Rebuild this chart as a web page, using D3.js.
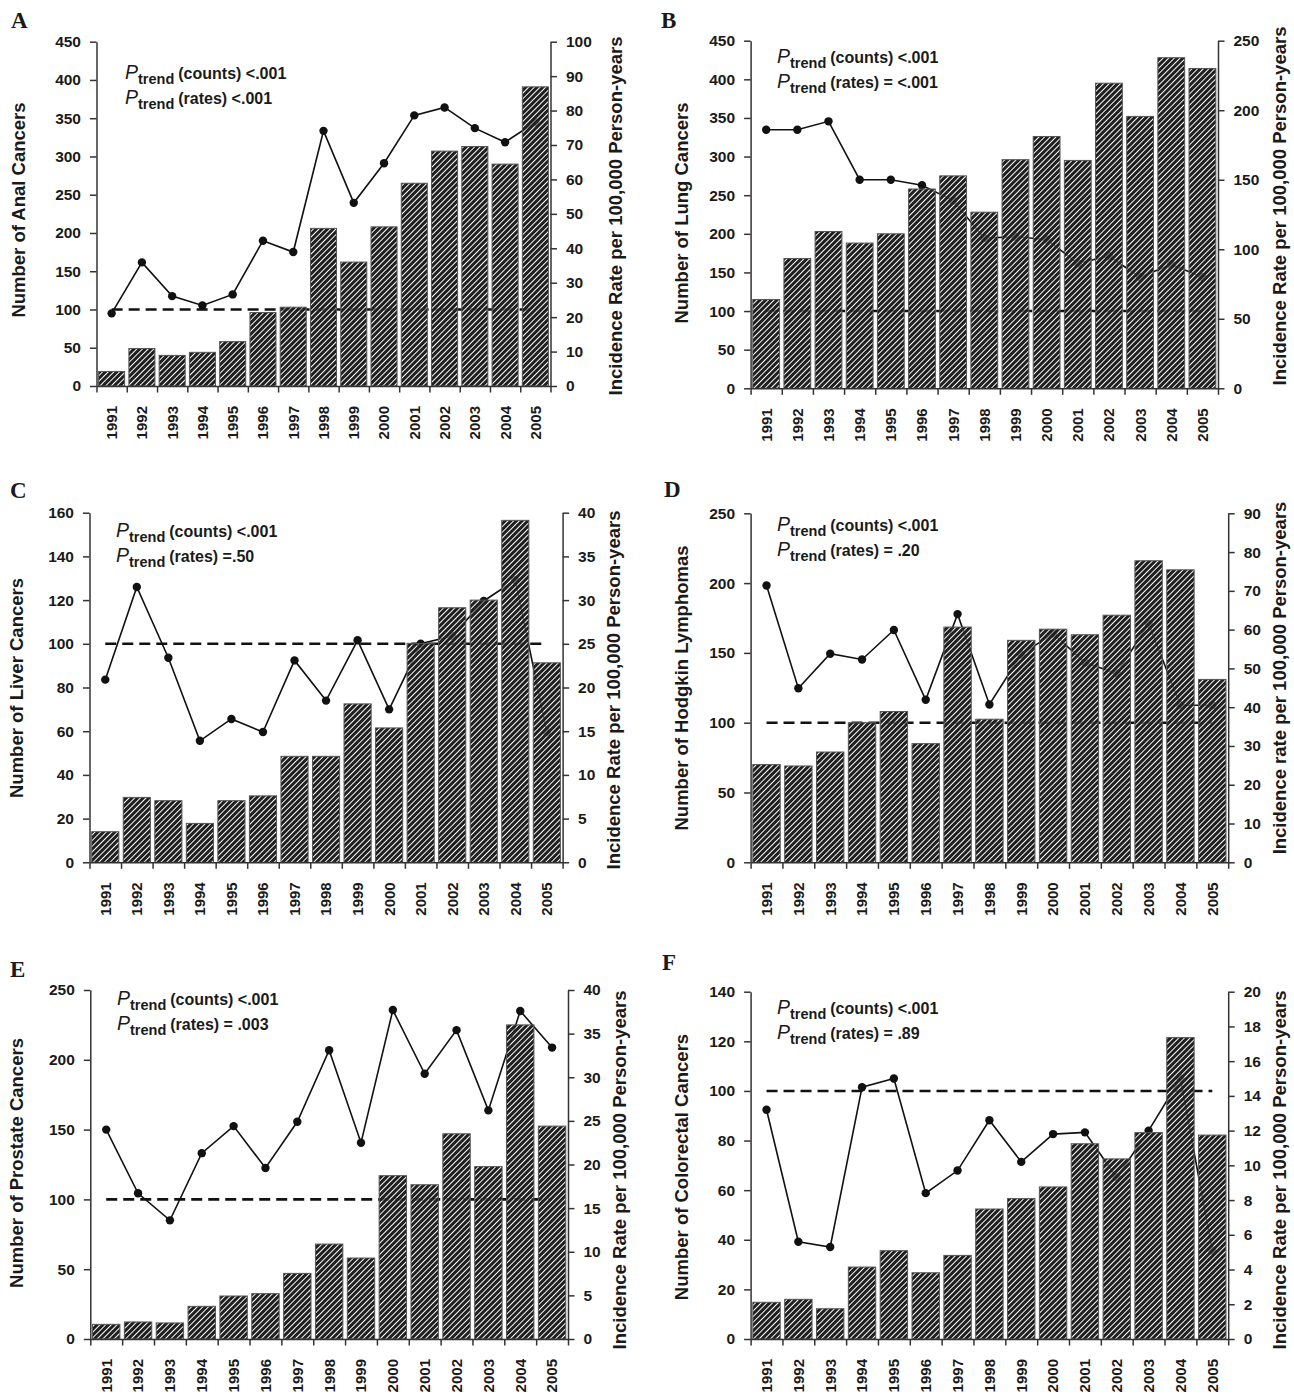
<!DOCTYPE html>
<html>
<head>
<meta charset="utf-8">
<script src="https://cdn.jsdelivr.net/npm/d3@7"></script>
<style>
  body { margin: 0; background: #fff; }
  svg { display: block; }
  text { font-family: "Liberation Sans", Arial, sans-serif; font-weight: bold; fill: #1a1a1a; }
</style>
</head>
<body>
<div id="chart"></div>
<script>
// years on the x axis
let years = ["1991", "1992", "1993", "1994", "1995", "1996", "1997", "1998",
             "1999", "2000", "2001", "2002", "2003", "2004", "2005"];

// counts (bars, left axis) and incidence rates (line, right axis)
let analCounts = [19, 49, 40, 44, 58, 96, 103, 206, 162, 208, 265, 307, 313, 290, 391];
let analRates = [21.1, 35.9, 26.1, 23.4, 26.6, 42.2, 38.9, 74.1, 53.2, 64.7, 78.6, 80.9, 74.9, 70.8, 76.6];

let lungCounts = [115, 168, 203, 188, 200, 258, 275, 228, 296, 326, 295, 395, 352, 428, 414];
let lungRates = [186, 186, 192, 150, 150, 146, 135, 108, 109, 107, 90, 95, 80, 89, 80];

let liverCounts = [14, 29.7, 28.2, 17.8, 28.2, 30.4, 48.5, 48.5, 72.5, 61.5, 100.2, 116.5, 120, 156.5, 91.3];
let liverRates = [20.9, 31.5, 23.4, 13.9, 16.4, 14.9, 23.1, 18.5, 25.4, 17.5, 25, 25.9, 29.9, 32.3, 14.9];

let hodgkinCounts = [70, 69, 79, 100, 108, 85, 168.5, 102.5, 159, 167, 163, 177, 216, 209.5, 131];
let hodgkinRates = [71.4, 44.9, 53.8, 52.3, 59.9, 41.9, 64, 40.7, 53.6, 59, 51.5, 48.7, 61.5, 40.5, 40.5];

let prostateCounts = [10.5, 12.2, 11.5, 23.4, 30.8, 32.5, 47, 68, 58, 117, 110.5, 147, 123.5, 225, 152.5];
let prostateRates = [24, 16.7, 13.6, 21.3, 24.4, 19.6, 24.9, 33.1, 22.5, 37.7, 30.4, 35.4, 26.2, 37.6, 33.4];

let colorectalCounts = [14.8, 16, 12.2, 29, 35.6, 26.7, 33.7, 52.4, 56.6, 61.3, 78.7, 72.6, 83.2, 121.5, 82.2];
let colorectalRates = [13.2, 5.6, 5.3, 14.5, 15, 8.4, 9.7, 12.6, 10.2, 11.8, 11.9, 9.3, 12, 15, 5.1];

// axis ranges and tick steps per panel (A..F)
let countMax = [450, 450, 160, 250, 250, 140];
let countStep = [50, 50, 20, 50, 50, 20];
let rateMax = [100, 250, 40, 90, 40, 20];
let rateStep = [10, 50, 5, 10, 5, 2];
let referenceCount = [100, 100, 100, 100, 100, 100];

// texts
let panelLetters = ["A", "B", "C", "D", "E", "F"];
let leftTitles = ["Number of Anal Cancers", "Number of Lung Cancers", "Number of Liver Cancers",
                  "Number of Hodgkin Lymphomas", "Number of Prostate Cancers", "Number of Colorectal Cancers"];
let rightTitles = ["Incidence Rate per 100,000 Person-years", "Incidence Rate per 100,000 Person-years",
                   "Incidence Rate per 100,000 Person-years", "Incidence rate per 100,000 Person-years",
                   "Incidence Rate per 100,000 Person-years", "Incidence Rate per 100,000 Person-years"];
let pCounts = ["(counts) <.001", "(counts) <.001", "(counts) <.001", "(counts) <.001", "(counts) <.001", "(counts) <.001"];
let pRates = ["(rates) <.001", "(rates) = <.001", "(rates) =.50", "(rates) = .20", "(rates) = .003", "(rates) = .89"];

let countSeries = [analCounts, lungCounts, liverCounts, hodgkinCounts, prostateCounts, colorectalCounts];
let rateSeries = [analRates, lungRates, liverRates, hodgkinRates, prostateRates, colorectalRates];

// page layout of each panel
let layout = [
  { left: 96.5, right: 550.5, top: 41.7, bottom: 386, letter: [11, 28], p: [125, 78.5], lt: [18.5, 210], rt: [615, 216] },
  { left: 750.6, right: 1218, top: 40.7, bottom: 388.3, letter: [661, 28], p: [777, 63], lt: [681, 213], rt: [1279, 206] },
  { left: 89.5, right: 562.6, top: 512.7, bottom: 862.3, letter: [10, 498], p: [116, 536.7], lt: [16.5, 688], rt: [613, 690] },
  { left: 750.6, right: 1228.2, top: 513.3, bottom: 862.3, letter: [664, 496.7], p: [777, 530.7], lt: [681, 688], rt: [1279, 678] },
  { left: 90.3, right: 568, top: 990, bottom: 1339, letter: [10, 976.7], p: [117, 1005], lt: [16.5, 1163], rt: [619, 1170] },
  { left: 750.6, right: 1228.2, top: 991.7, bottom: 1339, letter: [662, 970], p: [777, 1014], lt: [681, 1167], rt: [1279, 1170] }
];

let svg = d3.select("#chart").append("svg")
  .attr("width", 1294)
  .attr("height", 1396);

svg.append("rect").attr("width", 1294).attr("height", 1396).attr("fill", "#fff");

// hatch fill of the bars: dark with thin light diagonal lines
let defs = svg.append("defs");
let hatch = defs.append("pattern")
  .attr("id", "hatch")
  .attr("patternUnits", "userSpaceOnUse")
  .attr("width", 4)
  .attr("height", 4)
  .attr("patternTransform", "rotate(45)");
hatch.append("rect").attr("width", 3.05).attr("height", 4).attr("fill", "#1f1f1f");
hatch.append("rect").attr("x", 3.05).attr("width", 0.95).attr("height", 4).attr("fill", "#fff").attr("fill-opacity", 0.55);

layout.forEach(function(L, i) {
  let g = svg.append("g");

  let x = d3.scaleBand()
    .domain(years)
    .range([L.left, L.right])
    .paddingInner(0.14)
    .paddingOuter(0.07);

  let yCount = d3.scaleLinear().domain([0, countMax[i]]).range([L.bottom, L.top]);
  let yRate = d3.scaleLinear().domain([0, rateMax[i]]).range([L.bottom, L.top]);
  let center = d => x(d) + x.bandwidth() / 2;

  // dashed reference line at 100 counts
  g.append("line")
    .attr("x1", center(years[0]))
    .attr("x2", center(years[years.length - 1]))
    .attr("y1", yCount(referenceCount[i]))
    .attr("y2", yCount(referenceCount[i]))
    .attr("stroke", "#111")
    .attr("stroke-width", 2.6)
    .attr("stroke-dasharray", "11,6");

  // incidence rate line with dots
  let rates = rateSeries[i];
  let line = d3.line()
    .x((d, j) => center(years[j]))
    .y(d => yRate(d));

  g.append("path")
    .datum(rates)
    .attr("d", line)
    .attr("fill", "none")
    .attr("stroke", "#111")
    .attr("stroke-width", 1.6);

  g.selectAll(".dot")
    .data(rates)
    .enter()
    .append("circle")
    .attr("cx", (d, j) => center(years[j]))
    .attr("cy", d => yRate(d))
    .attr("r", 4.2)
    .attr("fill", "#111");

  // bars drawn over the lines, the light hatch lets them show faintly
  g.selectAll(".bar")
    .data(countSeries[i])
    .enter()
    .append("rect")
    .attr("x", (d, j) => x(years[j]))
    .attr("y", d => yCount(d))
    .attr("width", x.bandwidth())
    .attr("height", d => L.bottom - yCount(d))
    .attr("fill", "url(#hatch)")
    .attr("stroke", "#555")
    .attr("stroke-width", 1);

  // axes
  let leftAxis = d3.axisLeft(yCount)
    .tickValues(d3.range(0, countMax[i] + countStep[i] / 2, countStep[i]))
    .tickSize(6.5)
    .tickSizeOuter(0)
    .tickPadding(9);
  let rightAxis = d3.axisRight(yRate)
    .tickValues(d3.range(0, rateMax[i] + rateStep[i] / 2, rateStep[i]))
    .tickSize(6.5)
    .tickSizeOuter(0)
    .tickPadding(9);
  let xb = d3.scaleLinear().domain([0, years.length]).range([L.left, L.right]);
  let bottomAxis = d3.axisBottom(xb)
    .tickValues(d3.range(0, years.length + 1))
    .tickFormat("")
    .tickSize(6.5)
    .tickSizeOuter(0);

  let gl = g.append("g").attr("transform", `translate(${L.left},0)`).call(leftAxis);
  let gr = g.append("g").attr("transform", `translate(${L.right},0)`).call(rightAxis);
  let gb = g.append("g").attr("transform", `translate(0,${L.bottom})`).call(bottomAxis);

  [gl, gr, gb].forEach(function(a) {
    a.select(".domain").attr("stroke", "#333").attr("stroke-width", 1.5);
    a.selectAll(".tick line").attr("stroke", "#333").attr("stroke-width", 1.5);
    a.selectAll(".tick text")
      .attr("font-family", null)
      .attr("font-size", null)
      .style("font-size", "15.5px")
      .attr("fill", "#1a1a1a");
  });

  // year labels, rotated
  g.selectAll(".year")
    .data(years)
    .enter()
    .append("text")
    .attr("transform", d => `translate(${center(d)},${L.bottom + 20}) rotate(-90)`)
    .attr("dy", "0.36em")
    .style("text-anchor", "end")
    .style("font-size", "15px")
    .text(d => d);

  // axis titles
  g.append("text")
    .attr("transform", `translate(${L.lt[0]},${L.lt[1]}) rotate(-90)`)
    .attr("dy", "0.36em")
    .style("text-anchor", "middle")
    .style("font-size", "18.5px")
    .text(leftTitles[i]);

  g.append("text")
    .attr("transform", `translate(${L.rt[0]},${L.rt[1]}) rotate(-90)`)
    .attr("dy", "0.36em")
    .style("text-anchor", "middle")
    .style("font-size", "18.5px")
    .text(rightTitles[i]);

  // panel letter
  g.append("text")
    .attr("x", L.letter[0])
    .attr("y", L.letter[1])
    .style("font-family", "'Liberation Serif', 'Times New Roman', serif")
    .style("font-size", "23px")
    .text(panelLetters[i]);

  // P trend notes
  [pCounts[i], pRates[i]].forEach(function(txt, k) {
    let t = g.append("text")
      .attr("x", L.p[0])
      .attr("y", L.p[1] + k * 25);
    t.append("tspan")
      .style("font-style", "italic")
      .style("font-weight", "normal")
      .style("font-size", "19.5px")
      .text("P");
    t.append("tspan")
      .attr("dy", 5)
      .style("font-size", "14.5px")
      .text("trend");
    t.append("tspan")
      .attr("dy", -5)
      .attr("dx", 4)
      .style("font-size", "16px")
      .text(txt);
  });
});
</script>
</body>
</html>
